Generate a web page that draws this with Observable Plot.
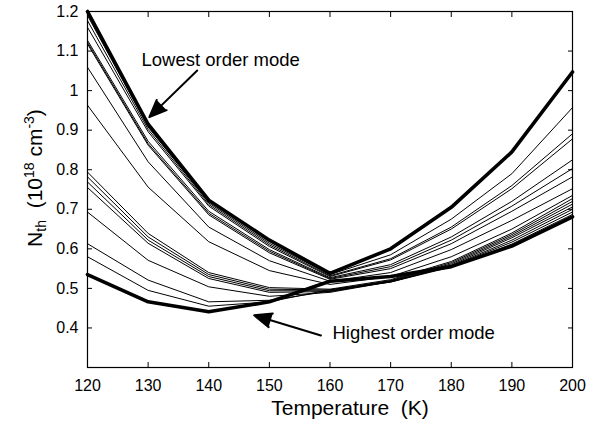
<!DOCTYPE html>
<html>
<head>
<meta charset="utf-8">
<script src="https://cdn.jsdelivr.net/npm/d3@7"></script>
<script src="https://cdn.jsdelivr.net/npm/@observablehq/plot@0.6"></script>
<style>
  body { margin: 0; background: #fff; }
  #chart svg { font-family: "Liberation Sans", Arial, Helvetica, sans-serif; }
</style>
</head>
<body>
<div id="chart"></div>
<script>
// Threshold carrier density vs temperature, one curve per lateral mode.
const temperatures = [120, 130, 140, 150, 160, 170, 180, 190, 200];

// Rows run from the lowest order mode (first) to the highest order mode (last), in 1e18 cm^-3.
const modeThresholds = [
  [1.200, 0.915, 0.723, 0.622, 0.538, 0.600, 0.705, 0.845, 1.047],
  [1.190, 0.908, 0.716, 0.614, 0.535, 0.585, 0.675, 0.790, 0.957],
  [1.177, 0.902, 0.712, 0.610, 0.532, 0.575, 0.655, 0.760, 0.891],
  [1.160, 0.896, 0.708, 0.606, 0.530, 0.572, 0.650, 0.752, 0.878],
  [1.127, 0.872, 0.695, 0.598, 0.527, 0.560, 0.630, 0.720, 0.825],
  [1.122, 0.866, 0.690, 0.594, 0.525, 0.555, 0.622, 0.708, 0.803],
  [1.118, 0.862, 0.686, 0.590, 0.523, 0.550, 0.613, 0.695, 0.782],
  [1.059, 0.820, 0.655, 0.570, 0.518, 0.540, 0.598, 0.672, 0.752],
  [0.963, 0.756, 0.618, 0.545, 0.510, 0.530, 0.580, 0.650, 0.735],
  [0.794, 0.639, 0.540, 0.502, 0.498, 0.522, 0.568, 0.640, 0.727],
  [0.782, 0.630, 0.535, 0.498, 0.496, 0.520, 0.565, 0.636, 0.720],
  [0.769, 0.622, 0.530, 0.494, 0.494, 0.519, 0.562, 0.632, 0.713],
  [0.755, 0.614, 0.525, 0.490, 0.492, 0.518, 0.559, 0.628, 0.706],
  [0.693, 0.571, 0.504, 0.480, 0.490, 0.517, 0.557, 0.622, 0.700],
  [0.613, 0.521, 0.466, 0.470, 0.493, 0.516, 0.556, 0.617, 0.693],
  [0.580, 0.495, 0.455, 0.466, 0.497, 0.516, 0.554, 0.612, 0.687],
  [0.535, 0.466, 0.441, 0.466, 0.518, 0.530, 0.555, 0.607, 0.681]
];

const xTicks = [120, 130, 140, 150, 160, 170, 180, 190, 200];
const yTicks = [0.4, 0.5, 0.6, 0.7, 0.8, 0.9, 1.0, 1.1, 1.2];
const xTitle = "Temperature\u00a0\u00a0(K)";

// Callouts for the two extreme modes (data units).
const noteTexts = ["Lowest order mode", "Highest order mode"];
const noteX = [128.9, 160.4];
const noteY = [1.076, 0.387];
const arrowFrom = [[138.1, 1.051], [158.5, 0.381]];
const arrowTo = [[130.2, 0.933], [147.5, 0.432]];

const lastMode = modeThresholds.length - 1;
const rows = modeThresholds.flatMap((vals, mode) =>
  vals.map((N, i) => ({mode, T: temperatures[i], N, thick: mode === 0 || mode === lastMode}))
);
const notes = noteTexts.map((text, i) => ({text, x: noteX[i], y: noteY[i]}));
const arrows = arrowFrom.map((a, i) => ({x1: a[0], y1: a[1], x2: arrowTo[i][0], y2: arrowTo[i][1]}));

const yFmt = d => String(+d.toFixed(1));

const chart = Plot.plot({
  width: 604,
  height: 436,
  marginLeft: 87,
  marginRight: 32,
  marginTop: 11,
  marginBottom: 69,
  style: {background: "#fff", color: "#000", fontSize: "16px", fontFamily: "Liberation Sans, Arial, sans-serif"},
  x: {domain: [120, 200]},
  y: {domain: [0.3, 1.2]},
  marks: [
    Plot.line(rows.filter(d => !d.thick), {x: "T", y: "N", z: "mode", stroke: "#000", strokeWidth: 1}),
    Plot.line(rows.filter(d => d.thick), {x: "T", y: "N", z: "mode", stroke: "#000", strokeWidth: 3.6}),
    Plot.frame({stroke: "#000", strokeWidth: 1.2}),
    Plot.axisX(xTicks, {anchor: "bottom", tickSize: -5, tickPadding: 17, label: null, fontSize: 16}),
    Plot.axisX(xTicks, {anchor: "top", tickSize: -5, tickFormat: () => "", label: null}),
    Plot.axisY(yTicks, {anchor: "left", tickSize: -5, tickPadding: 14, tickFormat: yFmt, label: null, fontSize: 16}),
    Plot.axisY(yTicks, {anchor: "right", tickSize: -5, tickFormat: () => "", label: null}),
    Plot.arrow(arrows, {x1: "x1", y1: "y1", x2: "x2", y2: "y2", stroke: "#000", fill: "#000", strokeWidth: 2, headLength: 14, headAngle: 45}),
    Plot.text(notes, {x: "x", y: "y", text: "text", textAnchor: "start", fontSize: 18.5, fill: "#000"}),
    Plot.text([xTitle], {frameAnchor: "bottom", dy: 47, dx: 20, fontSize: 21, fill: "#000"})
  ]
});

document.getElementById("chart").appendChild(chart);

// Arrow heads drawn as solid triangles.
d3.select(chart).selectAll("g[aria-label='arrow'] path").attr("fill", "#000");

// Rotated y-axis title with sub/superscripts.
const svg = d3.select(chart);
const yTitle = svg.append("text")
  .attr("transform", "translate(42,178) rotate(-90)")
  .attr("text-anchor", "middle")
  .attr("font-size", 21)
  .attr("fill", "#000")
  .style("white-space", "pre");
yTitle.append("tspan").text("N");
yTitle.append("tspan").attr("font-size", 14).attr("dy", 4).text("th");
yTitle.append("tspan").attr("dy", -4).text("\u00a0\u00a0(10");
yTitle.append("tspan").attr("font-size", 14).attr("dy", -8).text("18");
yTitle.append("tspan").attr("dy", 8).text("\u00a0cm");
yTitle.append("tspan").attr("font-size", 14).attr("dy", -8).text("-3");
yTitle.append("tspan").attr("dy", 8).text(")");
</script>
</body>
</html>
